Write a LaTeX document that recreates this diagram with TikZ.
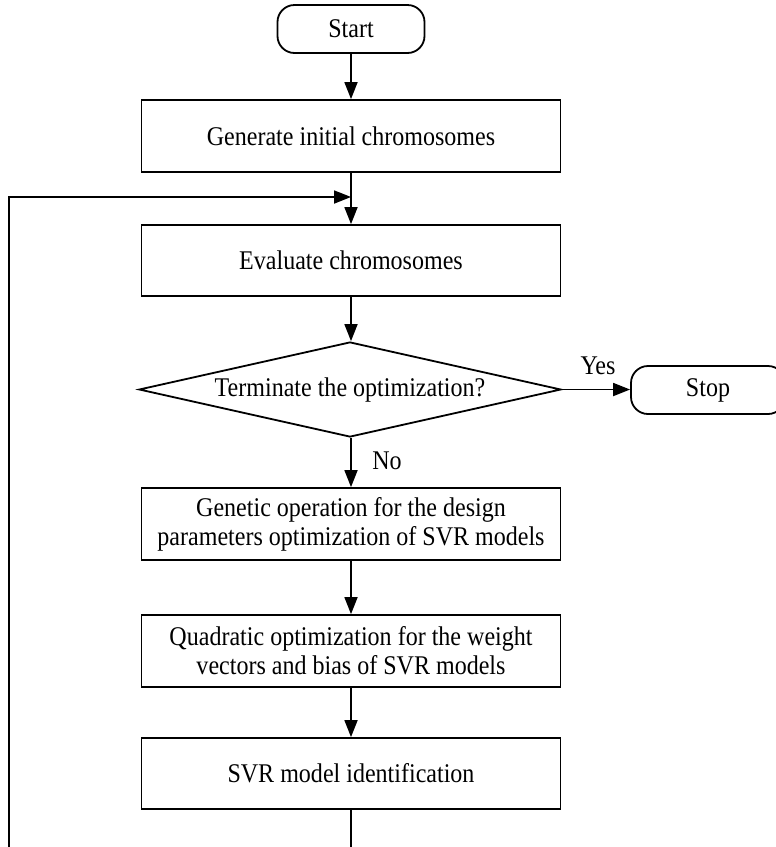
\documentclass[tikz,border=0pt]{standalone}
\usepackage{fontspec}
\setmainfont[FakeStretch=0.89]{Liberation Serif}
\usetikzlibrary{arrows.meta,shapes.geometric}
\begin{document}
\begin{tikzpicture}[x=1pt,y=-1pt,
  every node/.style={font=\fontsize{27}{29}\selectfont},
  arr/.style={line width=1.8pt, -{Triangle[length=17pt,width=13pt]}},
  procbox/.style={draw, line width=1.8pt, rectangle, minimum width=419pt, minimum height=72pt, inner sep=0pt, align=center},
  termbox/.style={draw, line width=1.8pt, rectangle, rounded corners=17pt, inner sep=0pt},
  decbox/.style={draw, line width=1.8pt, diamond, aspect=4.44, minimum width=422pt, minimum height=95pt, inner sep=0pt},
  lbl/.style={inner sep=0pt, anchor=base}]
\useasboundingbox (0,0) rectangle (776,847);
\node[termbox, minimum width=147pt, minimum height=48pt] (start) at (351,29) {Start};
\node[procbox] (gen) at (351,136) {Generate initial chromosomes};
\node[procbox, minimum height=71pt] (eval) at (351,260.5) {Evaluate chromosomes};
\node[decbox] (term) at (350,389.5) {Terminate the optimization?};
\node[termbox, minimum width=154pt, minimum height=48pt] (stop) at (708,390) {Stop};
\node[procbox] (genop) at (351,524) {Genetic operation for the design\\parameters optimization of SVR models};
\node[procbox] (quad) at (351,651) {Quadratic optimization for the weight\\vectors and bias of SVR models};
\node[procbox, minimum height=71pt] (svr) at (351,773.5) {SVR model identification};
\node[lbl] (yes) at (598,374) {Yes};
\node[lbl] (no) at (387,469) {No};
\coordinate (join) at (351,197);
\draw[arr] (start.south) -- (gen.north);
\draw[arr] (gen.south) -- (eval.north);
\draw[arr] (eval.south) -- (eval.south |- term.north);
\draw[arr] (term.east) -- (term.east -| stop.west);
\draw[arr] (term.south -| genop.north) -- (genop.north);
\draw[arr] (genop.south) -- (quad.north);
\draw[arr] (quad.south) -- (svr.north);
\draw[arr] (svr.south) -- ++(0,50) -| (9,197) -- (join);
\end{tikzpicture}
\end{document}
